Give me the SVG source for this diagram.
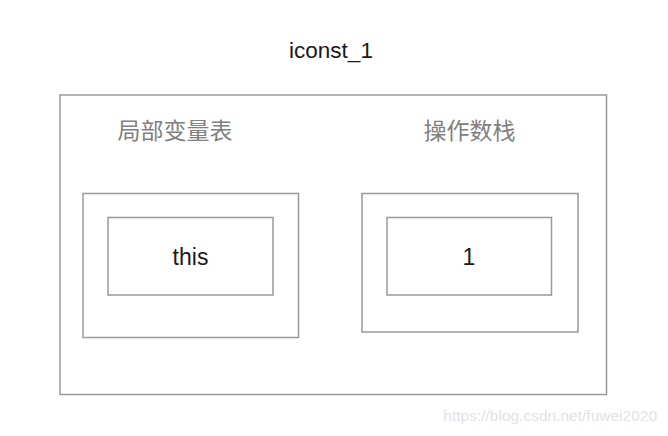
<svg xmlns="http://www.w3.org/2000/svg" width="668" height="436" viewBox="0 0 668 436">
<style>
.box{fill:#fff;stroke:#999;stroke-width:1.5}
.t{font-family:"Liberation Sans","Noto Sans CJK SC",sans-serif;text-anchor:middle;fill:#1a1a1a}
.title{font-size:22.5px}
.val{font-size:23px}
.cjk{font-family:"Noto Sans CJK SC",sans-serif;font-size:23px;fill:#808080;text-anchor:middle}
.wm{font-family:"Liberation Sans",sans-serif;font-size:15.5px;fill:#e2e2e2;text-anchor:end}
</style>
<rect width="668" height="436" fill="#fff"/>
<text class="t title" x="331" y="58">iconst_1</text>
<g id="frame">
<rect class="box" x="60" y="95" width="546.5" height="299.5"/>
<text class="cjk" x="175" y="138.5">局部变量表</text>
<text class="cjk" x="469.5" y="138.5">操作数栈</text>
</g>
<g id="local-vars">
<rect class="box" x="83" y="193.5" width="215.5" height="144"/>
</g>
<g id="local-this">
<rect class="box" x="108" y="217.5" width="165" height="77.5"/>
<text class="t val" x="190.5" y="265">this</text>
</g>
<g id="operand-stack">
<rect class="box" x="362" y="193.5" width="216" height="138.5"/>
</g>
<g id="stack-1">
<rect class="box" x="387" y="217.5" width="164.5" height="77.5"/>
<text class="t val" x="469" y="265">1</text>
</g>
<g id="connectors"></g>
<text class="wm" x="657" y="421">https://blog.csdn.net/fuwei2020</text>
</svg>
